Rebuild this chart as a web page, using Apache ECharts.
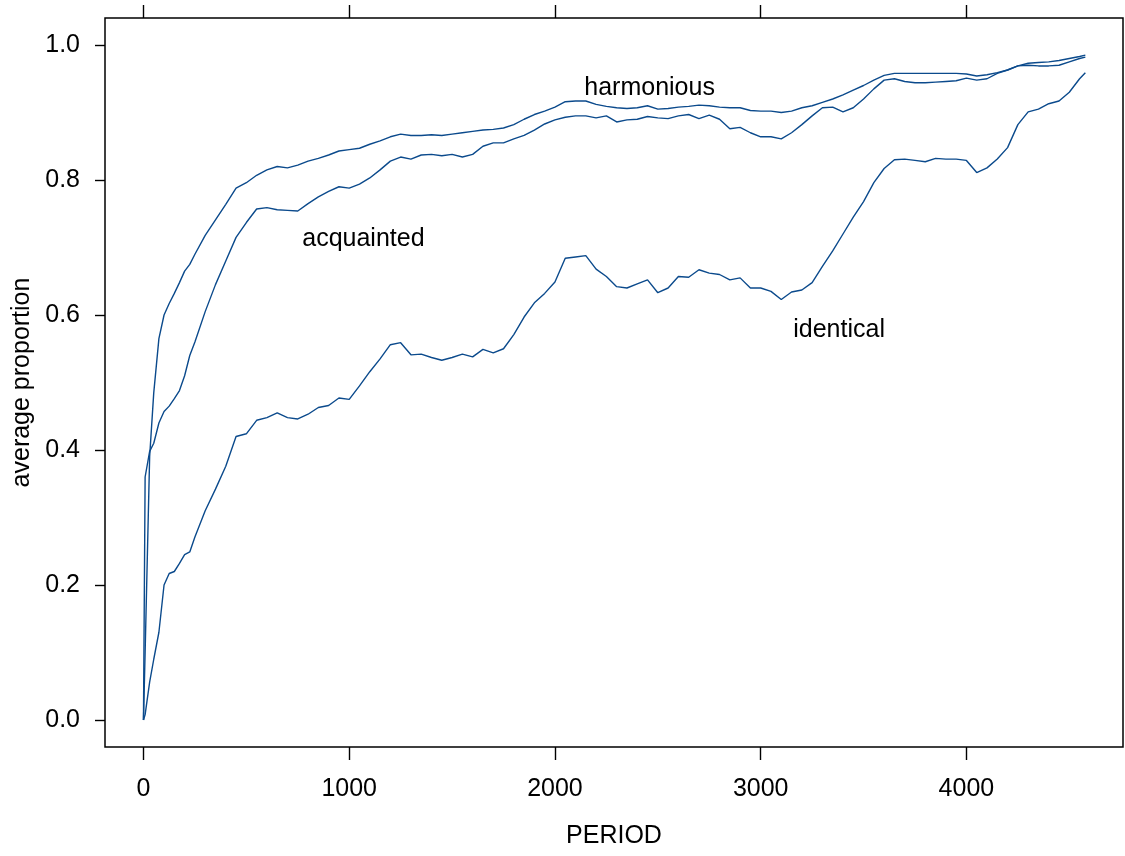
<!DOCTYPE html>
<html>
<head>
<meta charset="utf-8">
<title>average proportion by PERIOD</title>
<script src="https://cdn.jsdelivr.net/npm/echarts@6/dist/echarts.min.js"></script>
<style>
  html, body { margin: 0; padding: 0; background: #fff; }
  #chart { width: 1125px; height: 856px; }
</style>
</head>
<body>
<div id="chart"></div>
<script>
// Period at which each reading was taken
const periods = [0, 8, 30, 50, 75, 100, 125, 150, 175, 200, 225, 250, 300, 350, 400, 450, 500,
  550, 600, 650, 700, 750, 800, 850, 900, 950, 1000, 1050, 1100, 1150, 1200, 1250, 1300,
  1350, 1400, 1450, 1500, 1550, 1600, 1650, 1700, 1750, 1800, 1850, 1900, 1950, 2000,
  2050, 2100, 2150, 2200, 2250, 2300, 2350, 2400, 2450, 2500, 2550, 2600, 2650, 2700,
  2750, 2800, 2850, 2900, 2950, 3000, 3050, 3100, 3150, 3200, 3250, 3300, 3350, 3400,
  3450, 3500, 3550, 3600, 3650, 3700, 3750, 3800, 3850, 3900, 3950, 4000, 4050, 4100,
  4150, 4200, 4250, 4300, 4350, 4400, 4450, 4500, 4550, 4578];

// Average proportion, one array per relation type
const harmonious = [0, 0.10, 0.39, 0.485, 0.565, 0.600, 0.617, 0.632, 0.648, 0.665, 0.675, 0.690, 0.718, 0.741, 0.764, 0.788, 0.796,
  0.807, 0.815, 0.820, 0.818, 0.822, 0.828, 0.832, 0.837, 0.843, 0.845, 0.847, 0.853, 0.858, 0.864, 0.868, 0.866,
  0.866, 0.867, 0.866, 0.868, 0.870, 0.872, 0.874, 0.875, 0.877, 0.882, 0.890, 0.897, 0.902, 0.908,
  0.916, 0.917, 0.917, 0.912, 0.909, 0.907, 0.906, 0.907, 0.910, 0.905, 0.906, 0.908, 0.909, 0.911,
  0.910, 0.908, 0.907, 0.907, 0.903, 0.902, 0.902, 0.900, 0.902, 0.907, 0.910, 0.915, 0.920, 0.926,
  0.933, 0.940, 0.948, 0.955, 0.958, 0.958, 0.958, 0.958, 0.958, 0.958, 0.958, 0.957, 0.954, 0.956,
  0.959, 0.963, 0.969, 0.973, 0.974, 0.975, 0.977, 0.980, 0.983, 0.985];

const acquainted = [0, 0.36, 0.398, 0.410, 0.440, 0.457, 0.465, 0.476, 0.488, 0.510, 0.540, 0.560, 0.605, 0.645, 0.680, 0.715, 0.737,
  0.757, 0.759, 0.756, 0.755, 0.754, 0.765, 0.775, 0.783, 0.790, 0.788, 0.794, 0.803, 0.815, 0.828, 0.834, 0.831,
  0.837, 0.838, 0.836, 0.838, 0.834, 0.838, 0.850, 0.855, 0.855, 0.861, 0.866, 0.874, 0.883, 0.889,
  0.893, 0.895, 0.895, 0.892, 0.895, 0.886, 0.889, 0.890, 0.894, 0.892, 0.891, 0.895, 0.897, 0.891,
  0.896, 0.890, 0.876, 0.878, 0.870, 0.864, 0.864, 0.861, 0.870, 0.882, 0.895, 0.907, 0.908, 0.901,
  0.907, 0.920, 0.935, 0.948, 0.950, 0.946, 0.944, 0.944, 0.945, 0.946, 0.947, 0.951, 0.948, 0.950,
  0.958, 0.963, 0.969, 0.970, 0.969, 0.969, 0.970, 0.975, 0.980, 0.982];

const identical = [0, 0.008, 0.056, 0.090, 0.130, 0.200, 0.217, 0.220, 0.232, 0.245, 0.249, 0.271, 0.310, 0.342, 0.376, 0.420, 0.424,
  0.444, 0.448, 0.455, 0.448, 0.446, 0.453, 0.463, 0.466, 0.477, 0.475, 0.495, 0.516, 0.535, 0.556, 0.559, 0.541,
  0.542, 0.537, 0.533, 0.537, 0.542, 0.538, 0.549, 0.544, 0.550, 0.571, 0.597, 0.618, 0.632, 0.649,
  0.684, 0.686, 0.688, 0.668, 0.657, 0.642, 0.640, 0.646, 0.652, 0.633, 0.640, 0.657, 0.656, 0.667,
  0.662, 0.660, 0.652, 0.655, 0.640, 0.640, 0.635, 0.623, 0.634, 0.637, 0.648, 0.672, 0.695, 0.720,
  0.745, 0.768, 0.796, 0.817, 0.830, 0.831, 0.829, 0.827, 0.832, 0.831, 0.831, 0.829, 0.811, 0.818,
  0.831, 0.848, 0.882, 0.901, 0.905, 0.913, 0.917, 0.930, 0.950, 0.959];

// Tick positions
const xTicks = [0, 1000, 2000, 3000, 4000];
const yTicks = [0, 0.2, 0.4, 0.6, 0.8, 1.0];

// Curve labels placed beside each line
const labelNames = ['harmonious', 'acquainted', 'identical'];
const labelPeriods = [2460, 1069, 3381];
const labelValues = [0.936, 0.713, 0.577];

const LINE = '#0b4a8c';
const FONT = 'Liberation Sans, Arial, Helvetica, sans-serif';
const FS = 25;

const pairs = (ys) => periods.map((p, i) => [p, ys[i]]);

const lineSeries = (name, ys) => ({
  name, type: 'line', data: pairs(ys), xAxisIndex: 0, yAxisIndex: 0,
  showSymbol: false, symbol: 'none', silent: true,
  lineStyle: { color: LINE, width: 1.4 }
});

const chart = echarts.init(document.getElementById('chart'), null, { renderer: 'canvas' });

const xBase = {
  type: 'value', min: -187, max: 4761,
  splitLine: { show: false },
  axisLine: { show: false, onZero: false },
  axisTick: { show: true, inside: false, length: 13, customValues: xTicks,
              lineStyle: { color: '#000', width: 1.4 } }
};

chart.setOption({
  backgroundColor: '#fff',
  animation: false,
  grid: { left: 105, top: 18, right: 2, bottom: 109, show: true,
          borderColor: '#000', borderWidth: 1.5, backgroundColor: 'transparent' },
  xAxis: [
    Object.assign({}, xBase, {
      position: 'bottom',
      name: 'PERIOD', nameLocation: 'middle', nameGap: 77,
      nameTextStyle: { color: '#000', fontSize: FS, fontFamily: FONT },
      axisLabel: { show: true, customValues: xTicks, margin: 30, color: '#000',
                   fontSize: FS, fontFamily: FONT,
                   formatter: (v) => String(Math.round(v)) }
    }),
    Object.assign({}, xBase, {
      position: 'top',
      axisLabel: { show: false }
    })
  ],
  yAxis: [{
    type: 'value', min: -0.04, max: 1.04, position: 'left',
    splitLine: { show: false },
    axisLine: { show: false, onZero: false },
    axisTick: { show: true, inside: false, length: 10, customValues: yTicks,
                lineStyle: { color: '#000', width: 1.4 } },
    axisLabel: { show: true, customValues: yTicks, margin: 25, color: '#000',
                 fontSize: FS, fontFamily: FONT,
                 formatter: (v) => Number(v).toFixed(1) },
    name: 'average proportion', nameLocation: 'middle', nameGap: 67, nameRotate: 90,
    nameTextStyle: { color: '#000', fontSize: FS, fontFamily: FONT }
  }],
  series: [
    lineSeries('harmonious', harmonious),
    lineSeries('acquainted', acquainted),
    lineSeries('identical', identical),
    {
      type: 'scatter', silent: true,
      data: labelNames.map((n, i) => [labelPeriods[i], labelValues[i], n]),
      symbolSize: 1, itemStyle: { color: '#fff', opacity: 1 },
      label: { show: true, position: 'inside', color: '#000', opacity: 1,
               textBorderWidth: 0, textShadowBlur: 0,
               fontSize: FS, fontFamily: FONT,
               formatter: (p) => p.value[2] }
    }
  ]
});
</script>
</body>
</html>
